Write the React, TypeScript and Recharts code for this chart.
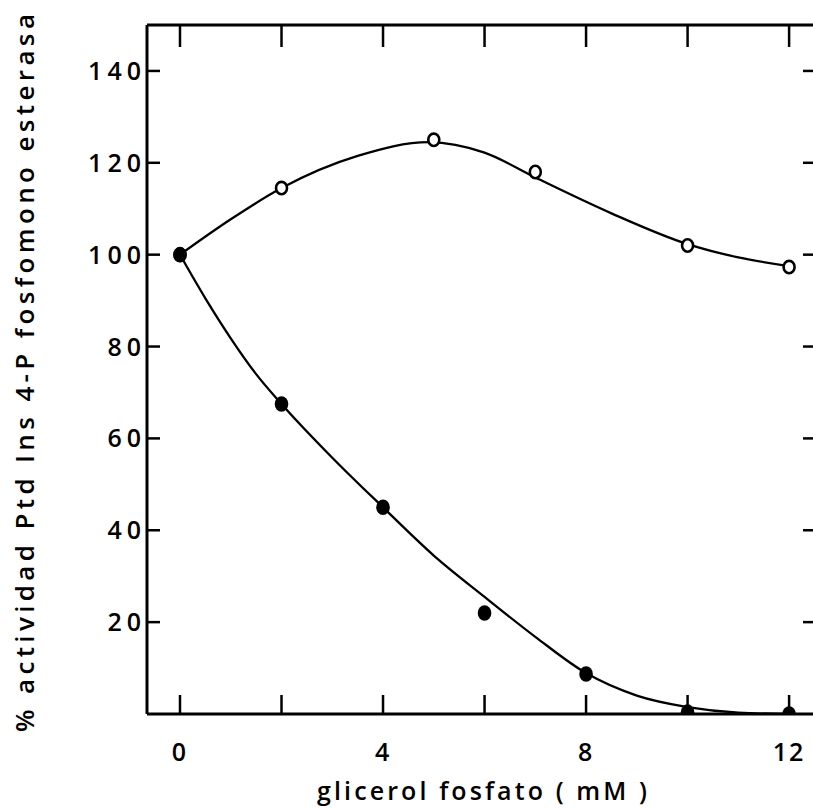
import {
  ComposedChart,
  Line,
  Scatter,
  XAxis,
  YAxis,
  Label,
} from "recharts";

// x positions (glicerol fosfato, mM)
const OPEN_X = [0, 2, 5, 7, 10, 12];
const OPEN_Y = [100, 114.5, 125, 118, 102, 97.3];

const FILLED_X = [0, 2, 4, 6, 8, 10, 12];
const FILLED_Y = [100, 67.5, 45, 22, 8.7, 0.4, 0];

// hand-drawn fitted curves
const OPEN_CURVE_X = [0, 1, 2, 3.5, 4.9, 6, 7, 8.5, 10, 11, 12];
const OPEN_CURVE_Y = [100, 107.7, 114.5, 121.5, 124.5, 122.2, 116.8, 109, 102.3, 99.4, 97.5];

const FILLED_CURVE_X = [0, 0.5, 1, 1.5, 2, 3, 4, 5, 6, 7, 8, 9, 10, 11, 12];
const FILLED_CURVE_Y = [100, 90.5, 81.8, 74, 67.5, 55.8, 45, 34.5, 25.5, 16.8, 8.9, 4, 1.5, 0.3, 0];

const X_TICKS = [0, 2, 4, 6, 8, 10, 12];
const X_LABELS: Record<number, string> = { 0: "0", 4: "4", 8: "8", 12: "12" };
const Y_TICKS = [20, 40, 60, 80, 100, 120, 140];

const toPoints = (xs: number[], ys: number[]) => xs.map((x, i) => ({ x, y: ys[i] }));

const openPts = toPoints(OPEN_X, OPEN_Y);
const filledPts = toPoints(FILLED_X, FILLED_Y);
const openCurve = toPoints(OPEN_CURVE_X, OPEN_CURVE_Y);
const filledCurve = toPoints(FILLED_CURVE_X, FILLED_CURVE_Y);

const FONT = "'Open Sans', 'DejaVu Sans', sans-serif";
const INK = "#000";
const X_DOMAIN: [number, number] = [-0.65, 12.53];
const Y_DOMAIN: [number, number] = [0, 150];

type TickProps = { x?: number; y?: number; payload?: { value: number } };

function OpenDot(props: { cx?: number; cy?: number }) {
  const { cx, cy } = props;
  if (cx == null || cy == null) return null;
  return <ellipse cx={cx} cy={cy} rx={5.5} ry={6.2} fill="#fff" stroke={INK} strokeWidth={2.6} />;
}

function FilledDot(props: { cx?: number; cy?: number }) {
  const { cx, cy } = props;
  if (cx == null || cy == null) return null;
  return <ellipse cx={cx} cy={cy} rx={6.8} ry={7.8} fill={INK} />;
}

// tick mark drawn inward, label below the axis
function BottomTick({ x = 0, y = 0, payload }: TickProps) {
  const txt = payload ? X_LABELS[payload.value] : undefined;
  return (
    <g>
      <line x1={x} y1={y} x2={x} y2={y - 19} stroke={INK} strokeWidth={2.5} />
      {txt && (
        <text x={x} y={y + 47} textAnchor="middle" fontFamily={FONT} fontWeight={600} fontSize={25} letterSpacing={2} fill={INK}>
          {txt}
        </text>
      )}
    </g>
  );
}

function TopTick({ x = 0, y = 0 }: TickProps) {
  return <line x1={x} y1={y} x2={x} y2={y + 22} stroke={INK} strokeWidth={2.5} />;
}

function LeftTick({ x = 0, y = 0, payload }: TickProps) {
  return (
    <g>
      <line x1={x} y1={y} x2={x + 13} y2={y} stroke={INK} strokeWidth={2.5} />
      <text x={x - 1} y={y + 9} textAnchor="end" fontFamily={FONT} fontWeight={600} fontSize={25} letterSpacing={5} fill={INK}>
        {payload ? String(payload.value) : ""}
      </text>
    </g>
  );
}

function RightTick({ x = 0, y = 0 }: TickProps) {
  return <line x1={x - 13} y1={y} x2={x} y2={y} stroke={INK} strokeWidth={2.5} />;
}

export default function App() {
  return (
    <div style={{ position: "absolute", left: 0, top: 0, width: 813, height: 809, overflow: "hidden", background: "#fff" }}>
      <ComposedChart width={825} height={809} margin={{ top: 24, right: 0, bottom: 0, left: 0 }}>
        <XAxis
          xAxisId="b"
          dataKey="x"
          type="number"
          domain={X_DOMAIN}
          ticks={X_TICKS}
          orientation="bottom"
          height={95}
          tickSize={0}
          tickMargin={0}
          tickLine={false}
          tick={BottomTick}
          axisLine={{ stroke: INK, strokeWidth: 3 }}
          allowDataOverflow
        >
          <Label
            content={() => (
              <text
                x={482}
                y={800}
                textAnchor="middle"
                fontFamily={FONT}
                fontWeight={600}
                fontSize={25}
                textLength={330}
                lengthAdjust="spacing"
                fill={INK}
              >
                glicerol fosfato ( mM )
              </text>
            )}
          />
        </XAxis>
        <XAxis
          xAxisId="t"
          dataKey="x"
          type="number"
          domain={X_DOMAIN}
          ticks={X_TICKS}
          orientation="top"
          height={1}
          tickSize={0}
          tickMargin={0}
          tickLine={false}
          tick={TopTick}
          axisLine={{ stroke: INK, strokeWidth: 3 }}
          allowDataOverflow
        />
        <YAxis
          yAxisId="l"
          dataKey="y"
          type="number"
          domain={Y_DOMAIN}
          ticks={Y_TICKS}
          orientation="left"
          width={147}
          tickSize={0}
          tickMargin={0}
          tickLine={false}
          tick={LeftTick}
          axisLine={{ stroke: INK, strokeWidth: 3 }}
          allowDataOverflow
        >
          <Label
            content={() => (
              <text
                x={34}
                y={373}
                transform="rotate(-90 34 373)"
                textAnchor="middle"
                fontFamily={FONT}
                fontWeight={600}
                fontSize={26}
                textLength={718}
                lengthAdjust="spacing"
                fill={INK}
              >
                % actividad Ptd Ins 4-P fosfomono esterasa
              </text>
            )}
          />
        </YAxis>
        <YAxis
          yAxisId="r"
          dataKey="y"
          type="number"
          domain={Y_DOMAIN}
          ticks={Y_TICKS}
          orientation="right"
          width={9}
          tickSize={0}
          tickMargin={0}
          tickLine={false}
          tick={RightTick}
          axisLine={false}
          allowDataOverflow
        />
        <Line
          xAxisId="b"
          yAxisId="l"
          data={openCurve}
          dataKey="y"
          type="monotone"
          stroke={INK}
          strokeWidth={2.3}
          dot={false}
          activeDot={false}
          isAnimationActive={false}
        />
        <Line
          xAxisId="b"
          yAxisId="l"
          data={filledCurve}
          dataKey="y"
          type="monotone"
          stroke={INK}
          strokeWidth={2.3}
          dot={false}
          activeDot={false}
          isAnimationActive={false}
        />
        <Scatter xAxisId="t" yAxisId="r" data={openPts} dataKey="y" shape={OpenDot} isAnimationActive={false} />
        <Scatter xAxisId="b" yAxisId="l" data={filledPts} dataKey="y" shape={FilledDot} isAnimationActive={false} />
      </ComposedChart>
    </div>
  );
}
